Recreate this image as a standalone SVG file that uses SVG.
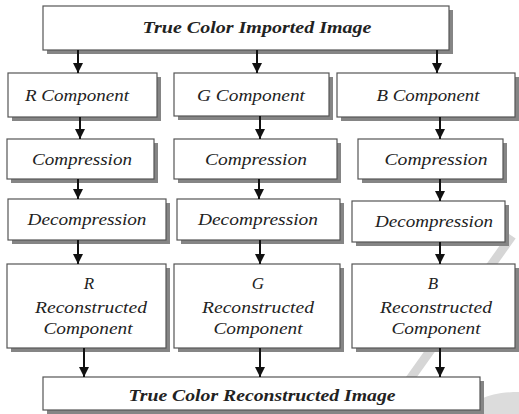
<svg xmlns="http://www.w3.org/2000/svg" width="519" height="414" viewBox="0 0 519 414">
<style>
.box{fill:#fff;stroke:#555;stroke-width:1.2}
.sh{fill:#858585}
.t{font-family:"Liberation Serif","Times New Roman",serif;font-style:italic;font-size:17px;fill:#222;text-anchor:middle}
.b{font-weight:bold}
.c line{stroke:#111;stroke-width:2}
.wm{fill:none;stroke:#d6d6d6;stroke-width:9}
</style>
<defs>
<marker id="ah" viewBox="0 0 10 10" refX="10" refY="5" markerWidth="5" markerHeight="5.5" markerUnits="strokeWidth" orient="auto">
<path d="M0,0 L10,5 L0,10 z" fill="#111"/>
</marker>
</defs>
<rect width="519" height="414" fill="#fff"/>
<g id="watermark">
<line class="wm" x1="512" y1="236" x2="385" y2="414"/>
<path d="M60,414 C60,398 80,388 110,388 L160,388 L160,414 Z" fill="#d9d9d9"/>
<path d="M300,414 L300,398 L350,398 L350,414 Z" fill="#dcdcdc"/>
<path d="M470,414 C470,400 490,392 519,392 L519,414 Z" fill="#dcdcdc"/>
</g>
<g id="top">
<rect class="sh" x="47" y="10" width="406" height="44"/>
<rect class="box" x="43" y="6" width="406" height="44"/>
<text class="t b" x="257" y="33" textLength="229" lengthAdjust="spacingAndGlyphs">True Color Imported Image</text>
</g>
<g id="rcomp">
<rect class="sh" x="12" y="77" width="149" height="44"/>
<rect class="box" x="8" y="73" width="149" height="44"/>
<text class="t" x="77" y="101" textLength="104" lengthAdjust="spacingAndGlyphs">R Component</text>
</g>
<g id="gcomp">
<rect class="sh" x="178" y="77" width="155" height="43"/>
<rect class="box" x="174" y="73" width="155" height="43"/>
<text class="t" x="251" y="101" textLength="108" lengthAdjust="spacingAndGlyphs">G Component</text>
</g>
<g id="bcomp">
<rect class="sh" x="341" y="77" width="178" height="44"/>
<rect class="box" x="337" y="73" width="178" height="44"/>
<text class="t" x="428" y="101" textLength="103" lengthAdjust="spacingAndGlyphs">B Component</text>
</g>
<g id="rcompr">
<rect class="sh" x="11" y="143" width="147" height="40"/>
<rect class="box" x="7" y="139" width="147" height="40"/>
<text class="t" x="82" y="165" textLength="100" lengthAdjust="spacingAndGlyphs">Compression</text>
</g>
<g id="gcompr">
<rect class="sh" x="178" y="143" width="163" height="40"/>
<rect class="box" x="174" y="139" width="163" height="40"/>
<text class="t" x="256" y="165" textLength="102" lengthAdjust="spacingAndGlyphs">Compression</text>
</g>
<g id="bcompr">
<rect class="sh" x="362" y="143" width="145" height="40"/>
<rect class="box" x="358" y="139" width="145" height="40"/>
<text class="t" x="436" y="165" textLength="103" lengthAdjust="spacingAndGlyphs">Compression</text>
</g>
<g id="rdecomp">
<rect class="sh" x="12" y="203" width="158" height="41"/>
<rect class="box" x="8" y="199" width="158" height="41"/>
<text class="t" x="87" y="225" textLength="119" lengthAdjust="spacingAndGlyphs">Decompression</text>
</g>
<g id="gdecomp">
<rect class="sh" x="181" y="203" width="163" height="41"/>
<rect class="box" x="177" y="199" width="163" height="41"/>
<text class="t" x="258" y="225" textLength="120" lengthAdjust="spacingAndGlyphs">Decompression</text>
</g>
<g id="bdecomp">
<rect class="sh" x="356" y="205" width="153" height="41"/>
<rect class="box" x="352" y="201" width="153" height="41"/>
<text class="t" x="434" y="227" textLength="118" lengthAdjust="spacingAndGlyphs">Decompression</text>
</g>
<g id="rrecon">
<rect class="sh" x="11" y="268" width="159" height="84"/>
<rect class="box" x="7" y="264" width="159" height="84"/>
<text class="t" x="89" y="289">R</text>
<text class="t" x="91" y="313" textLength="112" lengthAdjust="spacingAndGlyphs">Reconstructed</text>
<text class="t" x="88" y="334" textLength="89" lengthAdjust="spacingAndGlyphs">Component</text>
</g>
<g id="grecon">
<rect class="sh" x="178" y="268" width="166" height="84"/>
<rect class="box" x="174" y="264" width="166" height="84"/>
<text class="t" x="258" y="289">G</text>
<text class="t" x="258" y="313" textLength="112" lengthAdjust="spacingAndGlyphs">Reconstructed</text>
<text class="t" x="258" y="334" textLength="89" lengthAdjust="spacingAndGlyphs">Component</text>
</g>
<g id="brecon">
<rect class="sh" x="356" y="268" width="163" height="84"/>
<rect class="box" x="352" y="264" width="163" height="84"/>
<text class="t" x="433" y="289">B</text>
<text class="t" x="436" y="313" textLength="112" lengthAdjust="spacingAndGlyphs">Reconstructed</text>
<text class="t" x="436" y="334" textLength="89" lengthAdjust="spacingAndGlyphs">Component</text>
</g>
<g id="bottom">
<rect class="sh" x="47" y="381" width="437" height="33"/>
<rect class="box" x="43" y="377" width="437" height="33"/>
<text class="t b" x="262" y="401" textLength="267" lengthAdjust="spacingAndGlyphs">True Color Reconstructed Image</text>
</g>
<g id="connectors" class="c">
<line x1="78" y1="50" x2="78" y2="73" marker-end="url(#ah)"/>
<line x1="257" y1="50" x2="257" y2="73" marker-end="url(#ah)"/>
<line x1="437" y1="50" x2="437" y2="73" marker-end="url(#ah)"/>
<line x1="80" y1="117" x2="80" y2="139" marker-end="url(#ah)"/>
<line x1="260" y1="116" x2="260" y2="139" marker-end="url(#ah)"/>
<line x1="440" y1="117" x2="440" y2="139" marker-end="url(#ah)"/>
<line x1="78" y1="179" x2="78" y2="199" marker-end="url(#ah)"/>
<line x1="259" y1="179" x2="259" y2="199" marker-end="url(#ah)"/>
<line x1="440" y1="179" x2="440" y2="201" marker-end="url(#ah)"/>
<line x1="78" y1="240" x2="78" y2="264" marker-end="url(#ah)"/>
<line x1="260" y1="240" x2="260" y2="264" marker-end="url(#ah)"/>
<line x1="440" y1="242" x2="440" y2="264" marker-end="url(#ah)"/>
<line x1="84" y1="348" x2="84" y2="377" marker-end="url(#ah)"/>
<line x1="260" y1="348" x2="260" y2="377" marker-end="url(#ah)"/>
<line x1="440" y1="348" x2="440" y2="377" marker-end="url(#ah)"/>
</g>
</svg>
